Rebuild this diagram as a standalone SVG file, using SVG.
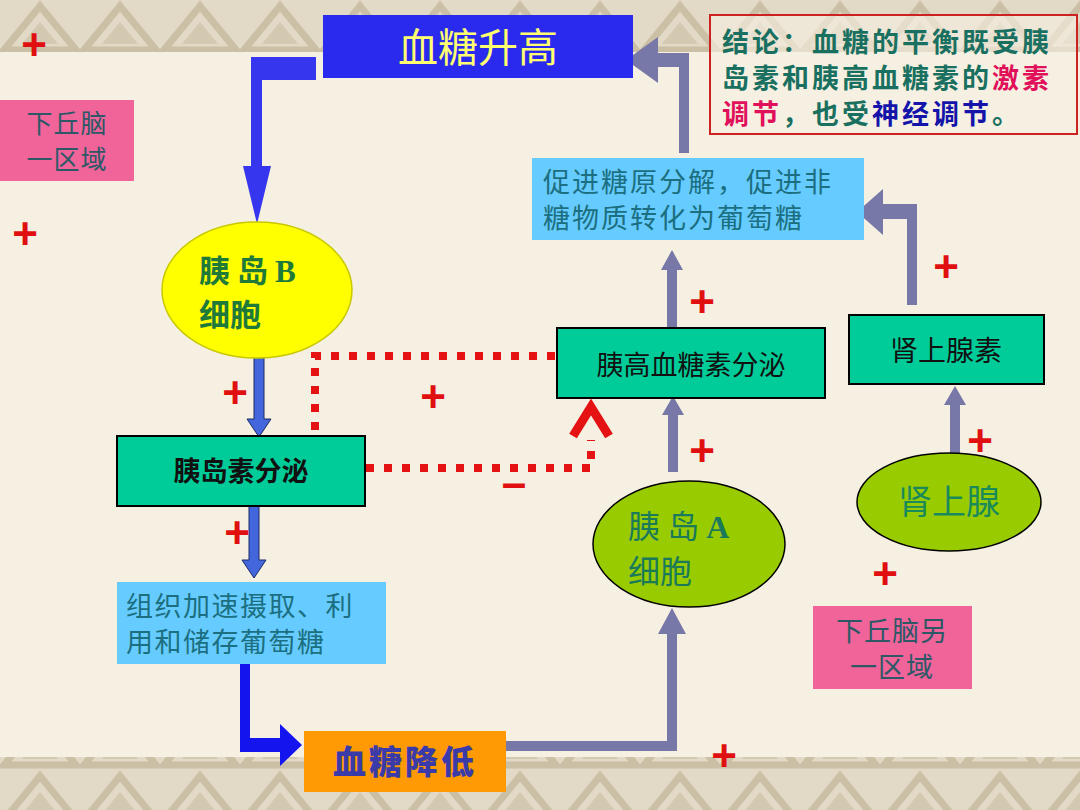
<svg xmlns="http://www.w3.org/2000/svg" width="1080" height="810" viewBox="0 0 1080 810">
<defs>
<pattern id="band" x="0" y="0" width="80" height="55" patternUnits="userSpaceOnUse">
<rect width="80" height="55" fill="#e2d9c6"/>
<path d="M4,50 L40,6 L76,50 Z" fill="none" stroke="#cbbfa6" stroke-width="7"/>
<path d="M22,44 L40,22 L58,44 Z" fill="#d3c8b0"/>
</pattern>
<style>
.cjk{font-family:"Noto Sans CJK SC","Liberation Sans",sans-serif;}
.plus{font-family:"Liberation Sans",sans-serif;font-weight:bold;font-size:44px;fill:#e01010;text-anchor:middle;}
.green{fill:#00cc99;stroke:#000;stroke-width:2;}
.lblue{fill:#66ccff;}
.pink{fill:#f0649a;}
.gray{fill:#7878a8;}
.dot{fill:none;stroke:#e41212;stroke-width:8;stroke-dasharray:8 10;}
.teal{fill:#1b6f80;}
.slate{fill:#2e5866;}
.concl{font-family:"Noto Sans CJK SC","Liberation Sans",sans-serif;font-size:27px;font-weight:bold;letter-spacing:3px;fill:#1a7060;}
.crim{fill:#e0105a;}
.navy{fill:#1414aa;}
</style>
</defs>
<rect width="1080" height="810" fill="#f6f0e2"/>
<rect x="0" y="0" width="1080" height="52" fill="url(#band)"/>
<rect x="0" y="757" width="1080" height="53" fill="url(#band)"/>

<g id="connectors">
<polygon points="316,57 251,57 251,166 243,166 257,224 271,166 262,166 262,80 316,80" fill="#3636ee"/>
<polygon points="254,357 264,357 264,419 271,419 259,437 247,419 254,419" fill="#4466dd" stroke="#1a2a66" stroke-width="1"/>
<polygon points="249,506 259,506 259,560 266,560 254,578 242,560 249,560" fill="#4466dd" stroke="#1a2a66" stroke-width="1"/>
<polygon points="240,664 250,664 250,738 280,738 280,724 302,745 280,766 280,752 240,752" fill="#1414ee"/>
<polygon points="506,741 667,741 667,634 658,634 672,608 686,634 677,634 677,751 506,751" class="gray"/>
<polygon points="668,472 678,472 678,415 684,415 673,396 662,415 668,415" class="gray"/>
<polygon points="667,327 677,327 677,270 683,270 672,250 661,270 667,270" class="gray"/>
<polygon points="679,153 689,153 689,53 658,53 658,37 626,60 658,83 658,67 679,67" class="gray"/>
<polygon points="907,305 917,305 917,204 883,204 883,189 857,212 883,235 883,219 907,219" class="gray"/>
<polygon points="950,460 960,460 960,405 966,405 955,386 944,405 950,405" class="gray"/>
<path d="M555,356 H315 V440" class="dot"/>
<polygon points="302,442 330,442 317,468" fill="#e41212"/>
<path d="M366,468 H591 V440" class="dot"/>
<polyline points="573,436 591,407 609,436" fill="none" stroke="#e41212" stroke-width="9"/>
</g>

<g id="n-gaosheng">
<rect x="323" y="15" width="310" height="63" fill="#2a2aee"/>
<text x="478" y="62" class="cjk" font-size="40" fill="#ffff70" text-anchor="middle">血糖升高</text>
</g>

<g id="n-conclusion">
<rect x="710" y="15" width="367" height="119" fill="#f7f0e2" fill-opacity="0.6" stroke="#cc2222" stroke-width="2"/>
<text class="concl" x="722" y="52">结论：血糖的平衡既受胰</text>
<text class="concl" x="722" y="88">岛素和胰高血糖素的<tspan class="crim">激素</tspan></text>
<text class="concl" x="722" y="124"><tspan class="crim">调节</tspan>，也受<tspan class="navy">神经调节</tspan>。</text>
</g>

<g id="n-hypo1">
<rect x="0" y="100" width="134" height="81" class="pink"/>
<text class="cjk slate" font-size="26" text-anchor="middle" letter-spacing="1" x="67" y="133">下丘脑</text>
<text class="cjk slate" font-size="26" text-anchor="middle" letter-spacing="1" x="67" y="169">一区域</text>
</g>

<g id="n-bcell">
<ellipse cx="257" cy="290" rx="95" ry="68" fill="#ffff00" stroke="#c8c800" stroke-width="1.5"/>
<text class="cjk" font-size="31" font-weight="bold" fill="#1f7a3a" x="199" y="282">胰 岛 <tspan font-family="Liberation Serif,serif">B</tspan></text>
<text class="cjk" font-size="31" font-weight="bold" fill="#1f7a3a" x="199" y="326">细胞</text>
</g>

<g id="n-insulin">
<rect x="117" y="436" width="248" height="70" class="green"/>
<text x="241" y="481" class="cjk" font-size="27" font-weight="bold" fill="#111" text-anchor="middle">胰岛素分泌</text>
</g>

<g id="n-tissue">
<rect x="117" y="582" width="269" height="82" class="lblue"/>
<text class="cjk teal" font-size="27" letter-spacing="1.5" x="126" y="616">组织加速摄取、利</text>
<text class="cjk teal" font-size="27" letter-spacing="1.5" x="126" y="652">用和储存葡萄糖</text>
</g>

<g id="n-jiangdi">
<rect x="304" y="731" width="202" height="61" fill="#ff9a05"/>
<text x="405" y="774" class="cjk" font-size="33" font-weight="900" fill="#3a3aa8" text-anchor="middle" letter-spacing="3">血糖降低</text>
</g>

<g id="n-acell">
<ellipse cx="689" cy="544" rx="96" ry="63" fill="#99cc00" stroke="#000" stroke-width="1.5"/>
<text class="cjk" font-size="32" fill="#1a7a5a" x="628" y="538">胰 岛 <tspan font-family="Liberation Serif,serif" font-weight="bold">A</tspan></text>
<text class="cjk" font-size="32" fill="#1a7a5a" x="628" y="583">细胞</text>
</g>

<g id="n-glucagon">
<rect x="557" y="328" width="268" height="70" class="green"/>
<text x="691" y="375" class="cjk" font-size="27" fill="#111" text-anchor="middle">胰高血糖素分泌</text>
</g>

<g id="n-promote">
<rect x="532" y="158" width="332" height="82" class="lblue"/>
<text class="cjk teal" font-size="27" letter-spacing="2" x="543" y="192">促进糖原分解，促进非</text>
<text class="cjk teal" font-size="27" letter-spacing="2" x="543" y="228">糖物质转化为葡萄糖</text>
</g>

<g id="n-epinephrine">
<rect x="849" y="315" width="195" height="69" class="green"/>
<text x="946" y="361" class="cjk" font-size="28" fill="#111" text-anchor="middle">肾上腺素</text>
</g>

<g id="n-adrenal">
<ellipse cx="949" cy="502" rx="92" ry="49" fill="#99cc00" stroke="#000" stroke-width="1.5"/>
<text x="949" y="514" class="cjk" font-size="34" fill="#1a8a5a" text-anchor="middle">肾上腺</text>
</g>

<g id="n-hypo2">
<rect x="813" y="606" width="159" height="83" class="pink"/>
<text class="cjk slate" font-size="27" letter-spacing="1" text-anchor="middle" x="892" y="641">下丘脑另</text>
<text class="cjk slate" font-size="27" letter-spacing="1" text-anchor="middle" x="892" y="677">一区域</text>
</g>

<g id="signs">
<text class="plus" x="34" y="60">+</text>
<text class="plus" x="25" y="249">+</text>
<text class="plus" x="235" y="408">+</text>
<text class="plus" x="433" y="412">+</text>
<text class="plus" x="237" y="548">+</text>
<text class="plus" x="702" y="317">+</text>
<text class="plus" x="702" y="466">+</text>
<text class="plus" x="946" y="282">+</text>
<text class="plus" x="980" y="456">+</text>
<text class="plus" x="885" y="589">+</text>
<text class="plus" x="724" y="771">+</text>
<text class="plus" x="514" y="498">–</text>
</g>
</svg>
